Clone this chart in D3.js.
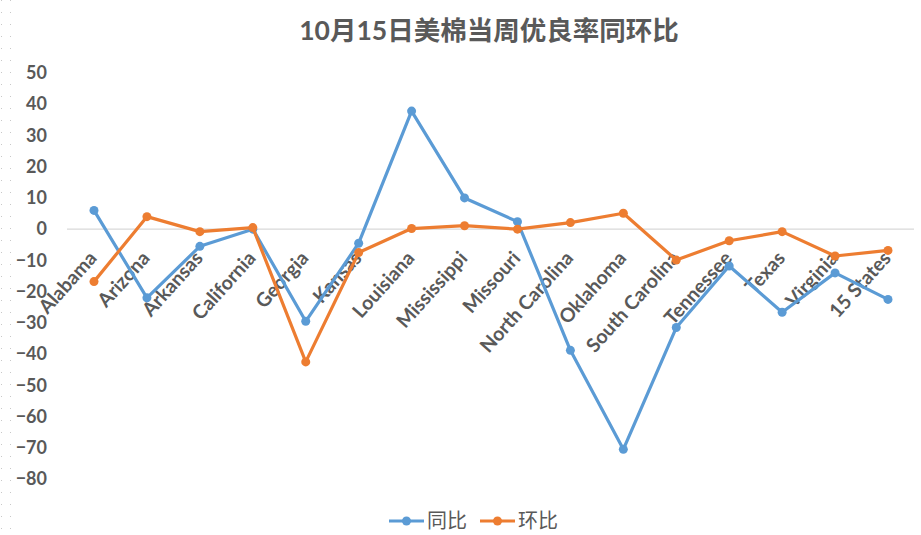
<!DOCTYPE html>
<html>
<head>
<meta charset="utf-8">
<script src="https://cdn.jsdelivr.net/npm/d3@7/dist/d3.min.js"></script>
<style>
  body { margin: 0; background: #fff; }
  svg { display: block; }
</style>
</head>
<body>
<div class="content-container"></div>
<script>
const categories = ["Alabama", "Arizona", "Arkansas", "California", "Georgia", "Kansas", "Louisiana",
  "Mississippi", "Missouri", "North Carolina", "Oklahoma", "South Carolina", "Tennessee", "Texas",
  "Virginia", "15 States"];
const yoy = [6, -22, -5.5, 0, -29.5, -4.5, 37.8, 10, 2.4, -38.8, -70.5, -31.5, -11.8, -26.6, -14, -22.5];
const mom = [-16.8, 4, -0.8, 0.5, -42.5, -7.5, 0.2, 1.1, 0, 2.1, 5.1, -9.9, -3.7, -0.8, -8.6, -6.8];
const yTicks = [50, 40, 30, 20, 10, 0, -10, -20, -30, -40, -50, -60, -70, -80];
const seriesNames = ["同比", "环比"];

const width = 921;
const height = 535;
const colors = ["#5B9BD5", "#ED7D31"];
const font = "Lato, 'Noto Sans CJK SC', sans-serif";

const svg = d3.select(".content-container")
  .append("svg")
  .attr("width", width)
  .attr("height", height);

// faint dotted border on the left, like the screenshot
[1.5, 10.5].forEach(x => {
  svg.append("line")
    .attr("x1", x).attr("x2", x).attr("y1", 0).attr("y2", height)
    .attr("stroke", "#c8c8c8")
    .attr("stroke-dasharray", "1,11");
});

// SCALES
const xScale = d3.scalePoint()
  .domain(categories)
  .range([94, 888]);

const yScale = d3.scaleLinear()
  .domain([-80, 50])
  .range([479, 73]);

// TITLE
svg.append("text")
  .attr("x", 489)
  .attr("y", 40)
  .attr("text-anchor", "middle")
  .style("font-family", font)
  .style("font-size", "26.5px")
  .style("font-weight", "bold")
  .style("fill", "#595959")
  .text("10月15日美棉当周优良率同环比");

// zero line
svg.append("line")
  .attr("x1", 67).attr("x2", 914)
  .attr("y1", yScale(0)).attr("y2", yScale(0))
  .attr("stroke", "#d9d9d9")
  .attr("stroke-width", 1.2);

// Y AXIS (labels only)
const yAxis = d3.axisLeft(yScale).tickValues(yTicks).tickSize(0).tickPadding(0);
const yG = svg.append("g")
  .attr("transform", "translate(47,0)")
  .call(yAxis);
yG.select(".domain").remove();
yG.selectAll("text")
  .style("font-family", font)
  .style("font-size", "18px")
  .style("font-weight", "bold")
  .style("fill", "#595959");

// CATEGORY LABELS, rotated
svg.selectAll(".cat")
  .data(categories)
  .enter()
  .append("text")
  .attr("class", "cat")
  .attr("transform", d => "translate(" + (xScale(d) + 4) + ",259) rotate(-48)")
  .attr("text-anchor", "end")
  .style("font-family", font)
  .style("font-size", "19.5px")
  .style("font-weight", "bold")
  .style("fill", "#595959")
  .text(d => d);

// LINES
const line = d3.line()
  .x((d, i) => xScale(categories[i]))
  .y(d => yScale(d));

[yoy, mom].forEach((series, k) => {
  svg.append("path")
    .datum(series)
    .attr("d", line)
    .attr("fill", "none")
    .attr("stroke", colors[k])
    .attr("stroke-width", 3.2)
    .attr("stroke-linejoin", "round");

  svg.selectAll(".pt" + k)
    .data(series)
    .enter()
    .append("circle")
    .attr("class", "pt" + k)
    .attr("cx", (d, i) => xScale(categories[i]))
    .attr("cy", d => yScale(d))
    .attr("r", 4.5)
    .attr("fill", colors[k]);
});

// LEGEND
const legendX = [389, 480];
seriesNames.forEach((name, k) => {
  const g = svg.append("g").attr("transform", "translate(" + legendX[k] + ",521)");
  g.append("line")
    .attr("x1", 0).attr("x2", 35)
    .attr("stroke", colors[k])
    .attr("stroke-width", 3.2);
  g.append("circle")
    .attr("cx", 17.5).attr("r", 4.5)
    .attr("fill", colors[k]);
  g.append("text")
    .attr("x", 38)
    .attr("y", 7)
    .style("font-family", font)
    .style("font-size", "20px")
    .style("fill", "#595959")
    .text(name);
});
</script>
</body>
</html>
